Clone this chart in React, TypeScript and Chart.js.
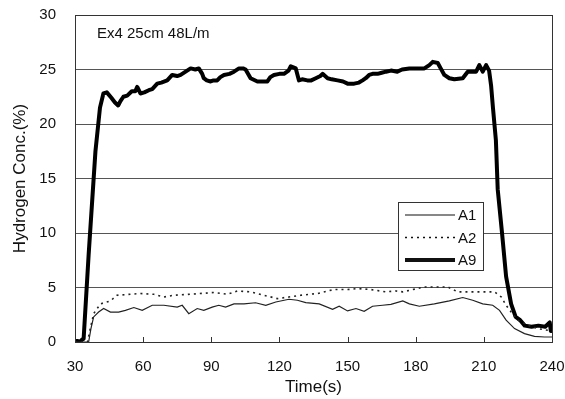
import React, { useEffect, useRef } from "react";
import { Chart, registerables } from "chart.js";

Chart.register(...registerables);

// ---- data (time in s, hydrogen concentration in %) ----
const a1Time = [30, 36, 37, 38.2, 40.4, 42.6, 45.6, 49.2, 52.2, 55.9, 59.6, 64, 69.1, 75, 77.2, 80.1, 83.8, 86.7, 90.4, 93.3, 96.3, 100, 104.4, 109.5, 114, 118.4, 124.2, 127.9, 131.6, 137.5, 143.4, 146.3, 150, 153.7, 157.3, 161, 165.4, 169.1, 174.3, 177.2, 181.6, 188.2, 194.8, 200.7, 205.1, 209.5, 213.9, 216.9, 219.8, 223.5, 227.9, 232.3, 236.7, 240];
const a1Conc = [0, 0, 1.2, 2.3, 2.75, 3.07, 2.75, 2.75, 2.9, 3.16, 2.9, 3.37, 3.37, 3.2, 3.37, 2.6, 3.07, 2.9, 3.2, 3.37, 3.2, 3.5, 3.5, 3.6, 3.37, 3.67, 3.92, 3.83, 3.62, 3.5, 3.0, 3.28, 2.85, 3.07, 2.82, 3.28, 3.37, 3.45, 3.77, 3.5, 3.28, 3.5, 3.77, 4.08, 3.83, 3.5, 3.37, 2.9, 2.0, 1.23, 0.77, 0.52, 0.46, 0.46];

const a2Time = [30, 35.5, 36.5, 38.2, 41.2, 45.6, 48.5, 54.4, 58.8, 64.7, 69.1, 73.5, 80.9, 91.1, 97, 101.5, 107.3, 113.2, 119.1, 124.2, 129.4, 136.8, 141.2, 144.1, 150, 154.4, 160.3, 166.9, 171.3, 174.3, 183.8, 194.1, 198.5, 208.8, 214.7, 217.7, 219.8, 222, 225, 229.4, 233.8, 238.2, 240];
const a2Conc = [0, 0, 1.0, 2.6, 3.5, 3.77, 4.29, 4.38, 4.45, 4.38, 4.13, 4.29, 4.38, 4.54, 4.38, 4.68, 4.6, 4.29, 3.98, 4.13, 4.29, 4.45, 4.68, 4.81, 4.81, 4.9, 4.81, 4.6, 4.68, 4.6, 5.05, 5.05, 4.6, 4.6, 4.6, 4.13, 3.37, 2.75, 2.0, 1.53, 1.23, 1.07, 1.0];

const a9Time = [30, 31, 32, 33, 33.8, 36, 39, 41, 42.5, 44, 46, 47.5, 49, 50, 51.3, 53, 55, 56.5, 57.4, 58.8, 60.5, 62.5, 64, 66.2, 68, 70.6, 72.8, 75, 76.5, 78.7, 80.9, 83, 84.5, 86, 86.7, 88, 89.7, 91, 92.6, 94, 95.6, 98, 100, 102.2, 104, 105.1, 107.3, 110.3, 112, 114.7, 116, 117.6, 120, 122, 124, 125, 127.2, 128.6, 130, 132.3, 134, 136, 138, 139, 141.2, 143, 145.6, 148, 150, 152.9, 155, 156.6, 158, 159.5, 161, 163.2, 165, 166.9, 169.1, 171.9, 174, 177.2, 180, 183.8, 186, 187.5, 189.7, 191, 192.6, 194.8, 197, 200.7, 202.9, 206.6, 208, 209.5, 211, 212.3, 213.2, 214, 215.3, 216.1, 218, 219.8, 222, 224, 226, 228, 231, 234, 237, 239, 239.5, 240];
const a9Conc = [0, 0.1, 0, 0.2, 0.3, 8, 17.5, 21.5, 22.8, 22.9, 22.4, 22.0, 21.7, 22.1, 22.5, 22.6, 23.0, 23.0, 23.4, 22.8, 22.9, 23.1, 23.2, 23.7, 23.8, 24.0, 24.5, 24.4, 24.5, 24.8, 25.1, 25.0, 25.1, 24.6, 24.2, 24.0, 23.9, 24.0, 24.0, 24.3, 24.5, 24.6, 24.8, 25.1, 25.1, 25.0, 24.2, 23.9, 23.9, 23.9, 24.3, 24.5, 24.6, 24.6, 24.9, 25.3, 25.1, 24.0, 24.1, 24.0, 24.0, 24.2, 24.4, 24.6, 24.2, 24.1, 24.0, 23.9, 23.7, 23.7, 23.8, 24.0, 24.2, 24.5, 24.6, 24.6, 24.7, 24.8, 24.9, 24.8, 25.0, 25.1, 25.1, 25.1, 25.4, 25.7, 25.6, 25.1, 24.5, 24.2, 24.1, 24.2, 24.8, 24.8, 25.4, 24.8, 25.4, 24.9, 23.5, 21.5, 18.5, 14, 10, 6, 3.5, 2.3, 2.0, 1.5, 1.4, 1.5, 1.4, 1.8, 1.0, 1.2];

const xTickValues = [30, 60, 90, 120, 150, 180, 210, 240];
const seriesLabels = ["A1", "A2", "A9"];
const noteText = "Ex4 25cm 48L/m";
const xTitle = "Time(s)";
const yTitle = "Hydrogen Conc.(%)";

const FONT = "'Liberation Sans', Arial, sans-serif";

export default function App() {
  const ref = useRef<HTMLCanvasElement>(null);

  useEffect(() => {
    if (!ref.current) return;
    const pts = (t: number[], v: number[]) => t.map((x, i) => ({ x, y: v[i] }));

    const decor = {
      id: "decor",
      afterDraw(chart: any) {
        const { ctx, chartArea } = chart;
        const { left, top, right, bottom } = chartArea;
        const xs = chart.scales.x;
        ctx.save();
        // frame
        ctx.strokeStyle = "#333";
        ctx.lineWidth = 1;
        ctx.strokeRect(Math.round(left) + 0.5, Math.round(top) + 0.5, Math.round(right - left), Math.round(bottom - top));
        // inward tick marks on x axis
        ctx.beginPath();
        xTickValues.forEach((v) => {
          const px = Math.round(xs.getPixelForValue(v)) + 0.5;
          ctx.moveTo(px, bottom);
          ctx.lineTo(px, bottom - 5);
        });
        ctx.stroke();

        // annotation
        ctx.fillStyle = "#111";
        ctx.font = `15px ${FONT}`;
        ctx.textBaseline = "middle";
        ctx.textAlign = "left";
        ctx.fillText(noteText, left + 22, top + 19);

        // legend box
        const lx = left + 323;
        const ly = top + 187;
        const lw = 85;
        const lh = 68;
        ctx.fillStyle = "#fff";
        ctx.fillRect(lx, ly, lw, lh);
        ctx.strokeStyle = "#333";
        ctx.lineWidth = 1;
        ctx.strokeRect(lx + 0.5, ly + 0.5, lw, lh);
        const rows = [
          { w: 1.2, dash: [] as number[] },
          { w: 1.6, dash: [2, 4] },
          { w: 4, dash: [] as number[] },
        ];
        rows.forEach((r, i) => {
          const y = ly + 13 + i * 22.5;
          ctx.beginPath();
          ctx.strokeStyle = "#111";
          ctx.lineWidth = r.w;
          ctx.setLineDash(r.dash);
          ctx.moveTo(lx + 7, y);
          ctx.lineTo(lx + 57, y);
          ctx.stroke();
          ctx.setLineDash([]);
          ctx.fillStyle = "#111";
          ctx.font = `15px ${FONT}`;
          ctx.textAlign = "left";
          ctx.fillText(seriesLabels[i], lx + 60, y + 1);
        });
        ctx.restore();
      },
    };

    const chart = new Chart(ref.current, {
      type: "line",
      data: {
        datasets: [
          {
            label: seriesLabels[0],
            data: pts(a1Time, a1Conc),
            borderColor: "#222",
            borderWidth: 1.2,
            pointRadius: 0,
            tension: 0,
          },
          {
            label: seriesLabels[1],
            data: pts(a2Time, a2Conc),
            borderColor: "#222",
            borderWidth: 1.6,
            borderDash: [2, 4],
            pointRadius: 0,
            tension: 0,
          },
          {
            label: seriesLabels[2],
            data: pts(a9Time, a9Conc),
            borderColor: "#000",
            borderWidth: 4,
            pointRadius: 0,
            tension: 0,
            borderJoinStyle: "round",
          },
        ],
      },
      options: {
        animation: false,
        responsive: false,
        maintainAspectRatio: false,
        layout: { padding: { left: 0, right: 13, top: 15, bottom: 0 } },
        plugins: { legend: { display: false }, tooltip: { enabled: false } },
        scales: {
          x: {
            type: "linear",
            min: 30,
            max: 240,
            afterBuildTicks: (s: any) => {
              s.ticks = xTickValues.map((v) => ({ value: v }));
            },
            afterFit: (s: any) => {
              s.height = 57;
              s.paddingLeft = 0;
              s.paddingRight = 0;
              s.paddingTop = 0;
              s.paddingBottom = 0;
            },
            grid: { display: false, drawTicks: false },
            border: { display: false },
            ticks: {
              color: "#111",
              font: { family: FONT, size: 15 },
              padding: 16,
              maxRotation: 0,
              autoSkip: false,
            },
            title: {
              display: true,
              text: xTitle,
              color: "#111",
              font: { family: FONT, size: 17 },
              padding: { top: 0, bottom: 1 },
            },
          },
          y: {
            min: 0,
            max: 30,
            afterFit: (s: any) => {
              s.width = 75;
              s.paddingLeft = 0;
              s.paddingRight = 0;
              s.paddingTop = 0;
              s.paddingBottom = 0;
            },
            ticks: {
              stepSize: 5,
              color: "#111",
              font: { family: FONT, size: 15 },
              padding: 19,
            },
            grid: { color: "#555", lineWidth: 1, drawTicks: false },
            border: { display: false },
            title: {
              display: true,
              text: yTitle,
              color: "#111",
              font: { family: FONT, size: 17 },
              padding: { top: 10, bottom: 0 },
            },
          },
        },
      },
      plugins: [decor],
    } as any);

    return () => chart.destroy();
  }, []);

  return (
    <div style={{ position: "fixed", left: 0, top: 0, width: 565, height: 399, background: "#fff" }}>
      <canvas ref={ref} width={565} height={399} style={{ display: "block" }} />
    </div>
  );
}
